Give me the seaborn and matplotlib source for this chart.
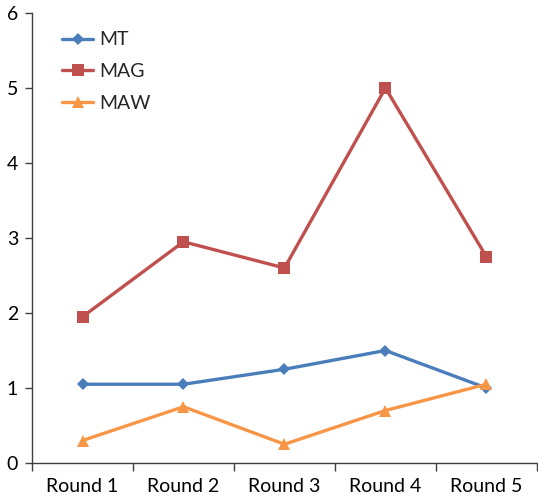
import matplotlib
matplotlib.use("Agg")
import matplotlib.pyplot as plt
from matplotlib.ticker import FixedLocator
import seaborn as sns
import pandas as pd

rounds = ["Round 1", "Round 2", "Round 3", "Round 4", "Round 5"]
mt = [1.05, 1.05, 1.25, 1.5, 1.0]
mag = [1.95, 2.95, 2.6, 5.0, 2.75]
maw = [0.3, 0.75, 0.25, 0.7, 1.05]
series_names = ["MT", "MAG", "MAW"]

df = pd.DataFrame({
    "round": rounds * 3,
    "pos": list(range(len(rounds))) * 3,
    "value": mt + mag + maw,
    "series": [s for s in series_names for _ in rounds],
})

sns.set_style("white")
plt.rcParams["font.family"] = ["Lato", "DejaVu Sans"]

colors = {"MT": "#4A7EBB", "MAG": "#C0504D", "MAW": "#F79646"}
markers = {"MT": "D", "MAG": "s", "MAW": "^"}
msizes = {"MT": 6.5, "MAG": 8, "MAW": 8.5}

fig = plt.figure(figsize=(5.38, 5.0), dpi=100)
ax = fig.add_axes([0.0595, 0.074, 0.9385, 0.90])

for name in series_names:
    sub = df[df["series"] == name]
    sns.lineplot(data=sub, x="pos", y="value", ax=ax, color=colors[name],
                 marker=markers[name], markersize=msizes[name],
                 markeredgewidth=0, linewidth=2.4, label=name, sort=False)

ax.set_xlim(-0.5, len(rounds) - 0.5)
ax.set_ylim(0, 6)
ax.set_yticks(range(0, 7))
ax.set_xlabel("")
ax.set_ylabel("")

# tick marks between categories, labels centred under each category
ax.xaxis.set_major_locator(FixedLocator([i - 0.5 for i in range(len(rounds) + 1)]))
ax.xaxis.set_minor_locator(FixedLocator(list(range(len(rounds)))))
ax.set_xticklabels([""] * (len(rounds) + 1))
ax.set_xticklabels(rounds, minor=True)
ax.tick_params(axis="x", which="major", direction="out", length=6, width=1, color="#404040", bottom=True)
ax.tick_params(axis="x", which="minor", length=0, labelsize=14, pad=11, labelcolor="black")
ax.tick_params(axis="y", direction="out", length=5, width=1, color="#404040", left=True,
               labelsize=14, pad=5, labelcolor="black")

for side in ["top", "right"]:
    ax.spines[side].set_visible(False)
for side in ["left", "bottom"]:
    ax.spines[side].set_color("#404040")
    ax.spines[side].set_linewidth(1)

ax.legend(loc="upper left", bbox_to_anchor=(0.025, 0.998), frameon=False, fontsize=14,
          handlelength=1.6, handletextpad=0.3, labelspacing=0.75)

fig.savefig("out.png", dpi=100)
